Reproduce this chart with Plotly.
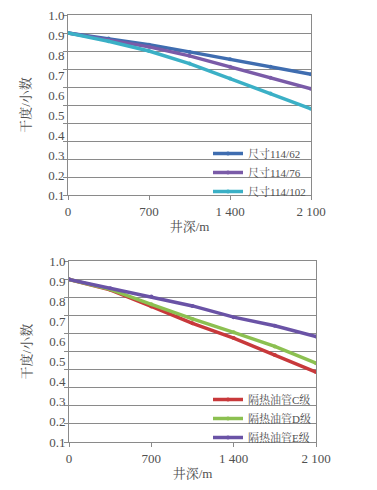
import plotly.graph_objects as go
from plotly.subplots import make_subplots

depth = [0, 350, 700, 1050, 1400, 1750, 2100]

# top chart: tubing size
size_names = ["尺寸114/62", "尺寸114/76", "尺寸114/102"]
size_62 = [0.900, 0.869, 0.835, 0.795, 0.754, 0.712, 0.671]
size_76 = [0.900, 0.863, 0.823, 0.773, 0.712, 0.652, 0.590]
size_102 = [0.900, 0.854, 0.800, 0.730, 0.647, 0.564, 0.479]

# bottom chart: insulated tubing grade
grade_names = ["隔热油管C级", "隔热油管D级", "隔热油管E级"]
grade_c = [0.900, 0.842, 0.750, 0.657, 0.575, 0.482, 0.387]
grade_d = [0.900, 0.845, 0.762, 0.681, 0.607, 0.529, 0.436]
grade_e = [0.900, 0.851, 0.805, 0.753, 0.691, 0.643, 0.584]

x_tickvals = [0, 700, 1400, 2100]
x_ticktext = ["0", "700", "1 400", "2 100"]
y_ticktext = ["1.0", "0.9", "0.8", "0.7", "0.6", "0.5", "0.4", "0.3", "0.2", "0.1"]

top_colors = ["#3F6DB0", "#7A5BA8", "#3BB0C6"]
bot_colors = ["#C8393B", "#8CC051", "#6A53A6"]

SERIF = "Liberation Serif, Noto Serif CJK SC, Noto Sans CJK SC, serif"
TXT = "#505050"

fig = make_subplots(rows=2, cols=1)

for name, vals, col in zip(size_names, [size_62, size_76, size_102], top_colors):
    fig.add_trace(go.Scatter(x=depth, y=vals, name=name, mode="lines+markers",
                             line=dict(color=col, width=3.5),
                             marker=dict(color=col, size=4),
                             legend="legend"), row=1, col=1)
for name, vals, col in zip(grade_names, [grade_c, grade_d, grade_e], bot_colors):
    fig.add_trace(go.Scatter(x=depth, y=vals, name=name, mode="lines+markers",
                             line=dict(color=col, width=3.5),
                             marker=dict(color=col, size=4),
                             legend="legend2"), row=2, col=1)

# page has an 8px body margin, so the figure is drawn 8px in from the window edge
OFF = 8
W, H = 377 - OFF, 490 - OFF
ML, MR, MT, MB = 60, 61, 7, 48
pw = W - ML - MR
ph = H - MT - MB

def clamp(v):
    return max(0.0, min(1.0, v))

def ydom(top_px, bot_px):
    top_px -= OFF
    bot_px -= OFF
    return [clamp((H - MB - bot_px) / ph), clamp((H - MB - top_px) / ph)]

def xpos(px):
    return (px - OFF - ML) / pw

def ypos(px):
    return (H - MB - (px - OFF)) / ph

y_lab_pos = [1.0 - k / 9 for k in range(10)]

axis_common = dict(
    showline=True, linecolor="#8a8a8a", linewidth=1, mirror=True,
    tickfont=dict(family=SERIF, size=13, color=TXT),
    automargin=False, ticklabeloverflow="allow",
)

for r, (xd, yd) in enumerate([([0, clamp(xpos(311))], ydom(14.7, 195)),
                               ([clamp(xpos(69)), 1.0], ydom(261.3, 442))], start=1):
    fig.update_xaxes(row=r, col=1, domain=xd, range=[0, 2100],
                     tickvals=x_tickvals, ticktext=x_ticktext,
                     ticks="outside", ticklen=4, tickcolor="#8a8a8a",
                     showgrid=False, zeroline=False,
                     title=dict(text="井深/m", font=dict(family=SERIF, size=13, color=TXT), standoff=4),
                     **axis_common)
    fig.update_yaxes(row=r, col=1, domain=yd, range=[0, 1.0],
                     tickvals=y_lab_pos, ticktext=y_ticktext,
                     ticks="", showgrid=False, zeroline=False,
                     minor=dict(tickvals=[k / 10 for k in range(11)], showgrid=True,
                                gridcolor="#8a8a8a", gridwidth=1,
                                ticks="outside", ticklen=4, tickcolor="#8a8a8a"),
                     title=dict(text="干度/小数", font=dict(family=SERIF, size=13, color=TXT), standoff=14),
                     **axis_common)

leg_common = dict(bgcolor="rgba(0,0,0,0)", borderwidth=0,
                  font=dict(family=SERIF, size=11, color=TXT),
                  xanchor="left", yanchor="top", tracegroupgap=0, itemwidth=30)

fig.update_layout(
    width=W, height=H,
    margin=dict(l=ML, r=MR, t=MT, b=MB),
    paper_bgcolor="white", plot_bgcolor="white",
    legend=dict(x=xpos(208), y=ypos(139), **leg_common),
    legend2=dict(x=xpos(208), y=ypos(385), **leg_common),
)

fig.write_html("out.html")
